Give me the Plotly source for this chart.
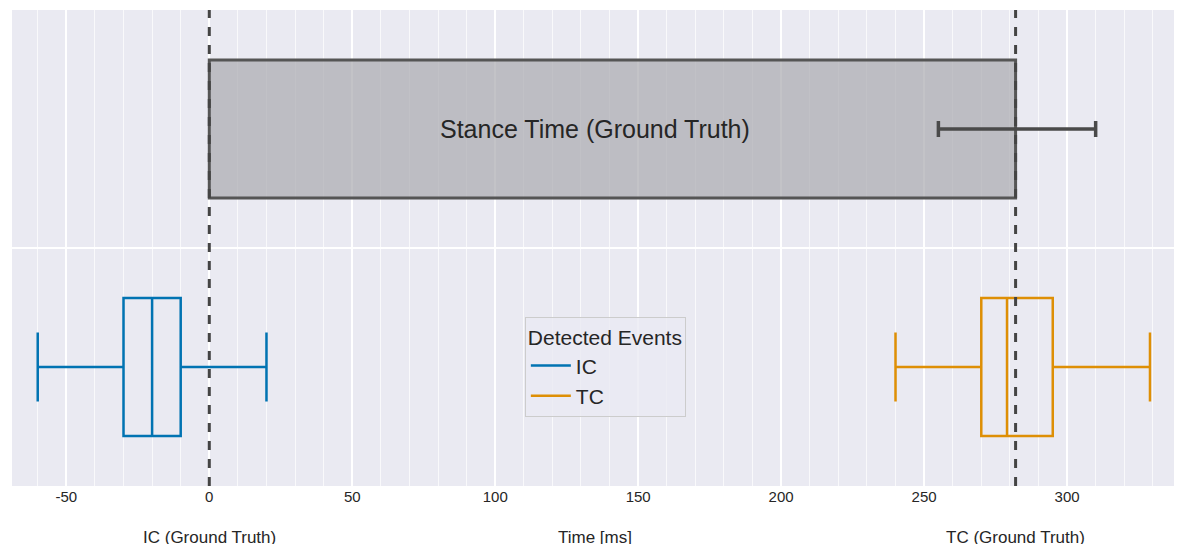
import plotly.graph_objects as go

# Data
stance_mean = 282
stance_err_minus = 27
stance_err_plus = 28
ic_stats = dict(lower=-60, q1=-30, median=-20, q3=-10, upper=20)
tc_stats = dict(lower=240, q1=270, median=279, q3=295, upper=329)
xticks = [-50, 0, 50, 100, 150, 200, 250, 300]

fig = go.Figure()
fig.add_trace(go.Bar(
    x=[stance_mean], y=[1], base=0, orientation="h", width=0.58,
    marker=dict(color="rgba(170,170,175,0.7)", line=dict(color="#555555", width=3)),
    error_x=dict(type="data", symmetric=False, array=[stance_err_plus],
                 arrayminus=[stance_err_minus], color="#4a4a4a", thickness=3.5, width=8),
    showlegend=False, hoverinfo="skip"))

for name, s, col in [("IC", ic_stats, "#0173b2"), ("TC", tc_stats, "#de8f05")]:
    fig.add_trace(go.Box(
        name=name, y=[0], orientation="h",
        q1=[s["q1"]], median=[s["median"]], q3=[s["q3"]],
        lowerfence=[s["lower"]], upperfence=[s["upper"]],
        width=0.58, whiskerwidth=0.5, fillcolor="rgba(0,0,0,0)",
        line=dict(color=col, width=2.5), boxpoints=False, showlegend=False))
    fig.add_trace(go.Scatter(x=[None], y=[None], mode="lines", name=name,
                             line=dict(color=col, width=2.5)))

for xv in [0, stance_mean]:
    fig.add_vline(x=xv, line=dict(color="#444444", width=3, dash="dash"))

fig.add_annotation(x=135, y=1, text="Stance Time (Ground Truth)", showarrow=False,
                   font=dict(size=25, color="#262626"))
for xv, txt in [(0, "IC (Ground Truth)"), (135, "Time [ms]"), (stance_mean, "TC (Ground Truth)")]:
    fig.add_annotation(x=xv, y=0, yref="paper", yshift=-63, text=txt, showarrow=False,
                       font=dict(size=17, color="#262626"))

fig.update_layout(
    width=1182, height=544, margin=dict(l=4, r=10, t=2, b=66),
    paper_bgcolor="white", plot_bgcolor="#EAEAF2",
    font=dict(family="Liberation Sans, Arial", color="#262626"),
    boxmode="overlay", barmode="overlay",
    legend=dict(title=dict(text="Detected Events", font=dict(size=21), side="top"),
                font=dict(size=21), x=0.508, y=0.25, xanchor="center", yanchor="middle",
                itemwidth=40,
                bgcolor="rgba(234,234,242,0.8)", bordercolor="#cccccc", borderwidth=1),
    xaxis=dict(range=[-69, 339.5], tickvals=xticks, ticktext=[str(v) for v in xticks],
               showgrid=True, gridcolor="white", gridwidth=2, zeroline=False,
               tickfont=dict(size=15),
               minor=dict(dtick=10, showgrid=True, gridcolor="rgba(255,255,255,0.7)", gridwidth=1)),
    yaxis=dict(range=[-0.5, 1.5], tickvals=[0.5], showticklabels=False,
               showgrid=True, gridcolor="white", gridwidth=2, zeroline=False),
)
fig.write_html("out.html")
